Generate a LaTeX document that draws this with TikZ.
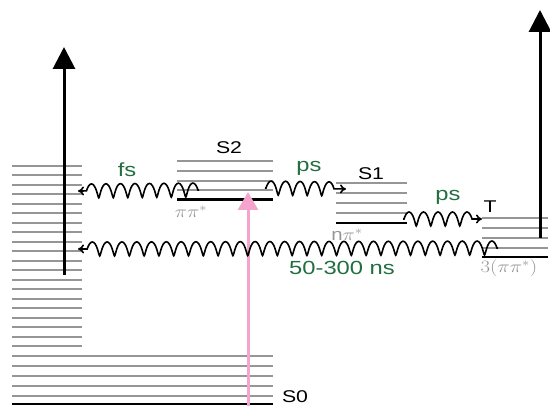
\documentclass[tikz,border=0pt]{standalone}
\usepackage{fontspec}
\setmainfont{Liberation Sans}
\usetikzlibrary{decorations.pathmorphing,arrows.meta}
\definecolor{lvgray}{RGB}{150,150,150}
\definecolor{lblgreen}{RGB}{35,110,65}
\definecolor{pumppink}{RGB}{245,165,205}
\begin{document}
\begin{tikzpicture}[x=1pt,y=-1pt,
  vib/.style={draw=lvgray,line width=2pt},
  base/.style={draw=black,line width=2.6pt},
  wave/.style={decorate,decoration={coil,segment length=14.5pt,amplitude=7pt,aspect=0.2,post length=5pt,pre length=1pt},
    line width=1.6pt,-{To[length=6pt,width=9pt]}},
  wavel/.style={wave,decoration={mirror}},
  lbl/.style={font=\fontsize{19}{19}\selectfont,text=lblgreen},
  statelbl/.style={font=\fontsize{17}{17}\selectfont},
  orb/.style={text=lvgray,font=\fontsize{17}{17}\selectfont},
  bigarrow/.style={line width=3pt,-{Triangle[length=22pt,width=22pt]}}]
\useasboundingbox (0,0) rectangle (550,406);
% left vibrational manifold
\foreach \i in {0,...,19} \draw[vib] (12,{166+\i*9.5}) -- (82,{166+\i*9.5});
% S0
\foreach \y in {356,366,376,386,396} \draw[vib] (12,\y) -- (273,\y);
\draw[base] (12,404) -- (273,404);
\node[statelbl] (s0) at (295,397) {\scalebox{1.25}[1]{S0}};
% S2
\foreach \y in {161.5,171.5,181,190} \draw[vib] (177,\y) -- (273,\y);
\draw[base] (177,199.5) -- (273,199.5);
\node[statelbl] (s2) at (229,148) {\scalebox{1.25}[1]{S2}};
\node[orb] (pp) at (191,212) {\scalebox{1.2}[1]{$\pi\pi^*$}};
% S1
\foreach \y in {183,193,203,213} \draw[vib] (336,\y) -- (407,\y);
\draw[base] (336,223) -- (407,223);
\node[statelbl] (s1) at (371,174) {\scalebox{1.25}[1]{S1}};
\node[orb] (np) at (347,235) {\scalebox{1.2}[1]{n$\pi^*$}};
% T
\foreach \y in {218,228,238,248} \draw[vib] (482,\y) -- (548,\y);
\draw[base] (482,257) -- (548,257);
\node[statelbl] (t) at (490,207) {\scalebox{1.25}[1]{T}};
\node[orb] (tpp) at (509,268) {\scalebox{1.2}[1]{$3(\pi\pi^*)$}};
% coordinates
\coordinate (la) at (64,275); \coordinate (lat) at (64,47);
\coordinate (ra) at (540,238); \coordinate (rat) at (540,10);
\coordinate (pa) at (248,406); \coordinate (pat) at (248,192);
\coordinate (fsA) at (199,190); \coordinate (fsB) at (78,191);
\coordinate (psA) at (265,188); \coordinate (psB) at (346,189);
\coordinate (ptA) at (403,219); \coordinate (ptB) at (482,219);
\coordinate (nsA) at (498,248); \coordinate (nsB) at (78,249);
% arrows
\draw[bigarrow] (la) -- (lat);
\draw[bigarrow] (ra) -- (rat);
\draw[pumppink,line width=3pt,-{Triangle[length=18pt,width=20pt]}] (pa) -- (pat);
\draw[wavel] (fsA) -- (fsB);
\draw[wave] (psA) -- (psB);
\draw[wave] (ptA) -- (ptB);
\draw[wavel,decoration={segment length=14.8pt}] (nsA) -- (nsB);
% labels
\node[lbl] (fs) at (127,170) {\scalebox{1.25}[1]{fs}};
\node[lbl] (ps1) at (309,168) {\scalebox{1.25}[1]{ps}};
\node[lbl] (ps2) at (448,197) {\scalebox{1.25}[1]{ps}};
\node[lbl] (ns) at (342,268) {\scalebox{1.25}[1]{50-300 ns}};
\end{tikzpicture}
\end{document}
